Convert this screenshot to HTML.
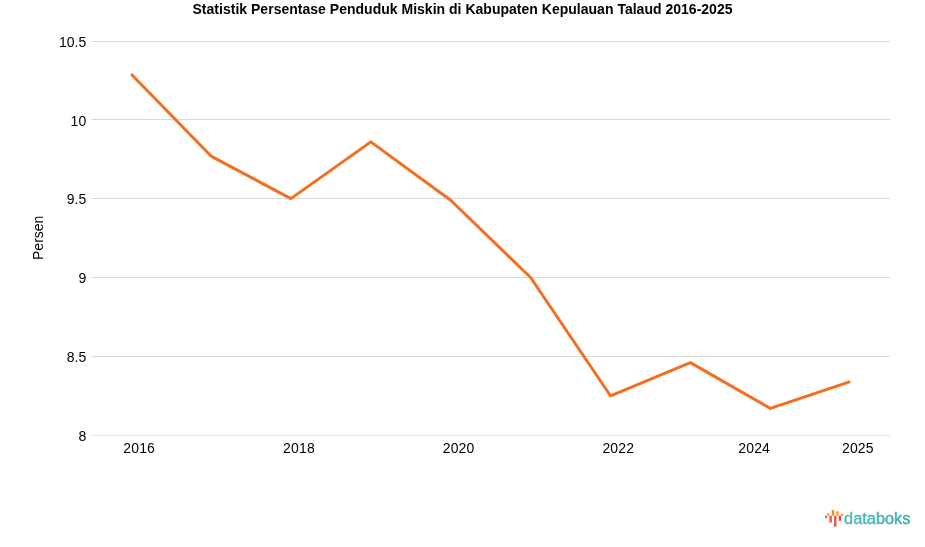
<!DOCTYPE html>
<html><head><meta charset="utf-8"><title>Statistik</title>
<style>
html,body{margin:0;padding:0;background:#fff;}
body{width:925px;height:547px;overflow:hidden;font-family:"Liberation Sans",sans-serif;}
svg{display:block}
svg text{font-family:"Liberation Sans",sans-serif;font-size:14px;fill:#000;}
</style></head><body>
<svg width="925" height="547" viewBox="0 0 925 547">
<defs><linearGradient id="tg" x1="0" x2="1" y1="0" y2="0"><stop offset="0" stop-color="#4cbcb6"/><stop offset="1" stop-color="#3aaba7"/></linearGradient></defs>
<rect width="925" height="547" fill="#fff"/>
<text id="title" transform="translate(0,13.85) scale(1,1.04)" x="462.5" y="0" text-anchor="middle" textLength="540" lengthAdjust="spacing" style="font-weight:bold;font-size:14px;fill:#000">Statistik Persentase Penduduk Miskin di Kabupaten Kepulauan Talaud 2016-2025</text>
<rect x="91.4" y="41" width="798.6" height="1" fill="#d9d9d9"/>
<rect x="91.4" y="119" width="798.6" height="1" fill="#d9d9d9"/>
<rect x="91.4" y="198" width="798.6" height="1" fill="#d9d9d9"/>
<rect x="91.4" y="277" width="798.6" height="1" fill="#d9d9d9"/>
<rect x="91.4" y="356" width="798.6" height="1" fill="#d9d9d9"/>
<rect x="91.4" y="435" width="798.6" height="1" fill="#e6e6e6"/>

<text x="86.2" y="46.70" text-anchor="end">10.5</text>
<text x="86.2" y="125.55" text-anchor="end">10</text>
<text x="86.2" y="204.40" text-anchor="end">9.5</text>
<text x="86.2" y="283.25" text-anchor="end">9</text>
<text x="86.2" y="362.10" text-anchor="end">8.5</text>
<text x="86.2" y="440.95" text-anchor="end">8</text>

<text x="139.1" y="453.2" text-anchor="middle" textLength="31.6" lengthAdjust="spacing">2016</text>
<text x="298.9" y="453.2" text-anchor="middle" textLength="31.6" lengthAdjust="spacing">2018</text>
<text x="458.5" y="453.2" text-anchor="middle" textLength="31.6" lengthAdjust="spacing">2020</text>
<text x="618.2" y="453.2" text-anchor="middle" textLength="31.6" lengthAdjust="spacing">2022</text>
<text x="754.1" y="453.2" text-anchor="middle" textLength="31.6" lengthAdjust="spacing">2024</text>
<text x="857.8" y="453.2" text-anchor="middle" textLength="31.6" lengthAdjust="spacing">2025</text>

<text transform="translate(42.8,237.8) rotate(-90)" text-anchor="middle">Persen</text>
<polyline points="131.10,74.07 211.00,156.07 290.90,198.65 370.80,141.88 450.70,200.23 530.60,277.50 610.50,395.77 690.40,362.66 770.30,408.39 850.20,381.58" fill="none" stroke="#f26f21" stroke-width="3" stroke-linejoin="round" stroke-linecap="butt"/>
<g id="logo">
<rect x="827" y="513.2" width="2.6" height="2.5" fill="#f5a340"/>
<rect x="831.7" y="510" width="2.5" height="5.7" fill="#e8912c"/>
<rect x="836.2" y="511.2" width="2.5" height="4.5" fill="#f0a040"/>
<rect x="840.8" y="513.9" width="2.5" height="1.8" fill="#e8912c"/>
<rect x="825" y="515.7" width="2.1" height="2.1" fill="#e8453c"/>
<rect x="829.4" y="515.7" width="2.5" height="6.9" fill="#ec5a4e"/>
<rect x="834" y="515.7" width="2.5" height="11" fill="#ec5a4e"/>
<rect x="838.7" y="515.7" width="2.4" height="5.1" fill="#e8453c"/>
<text x="844.1" y="524" style="font-size:16.35px;fill:url(#tg);stroke:url(#tg);stroke-width:0.4px">databoks</text>
</g>
</svg>
</body></html>
